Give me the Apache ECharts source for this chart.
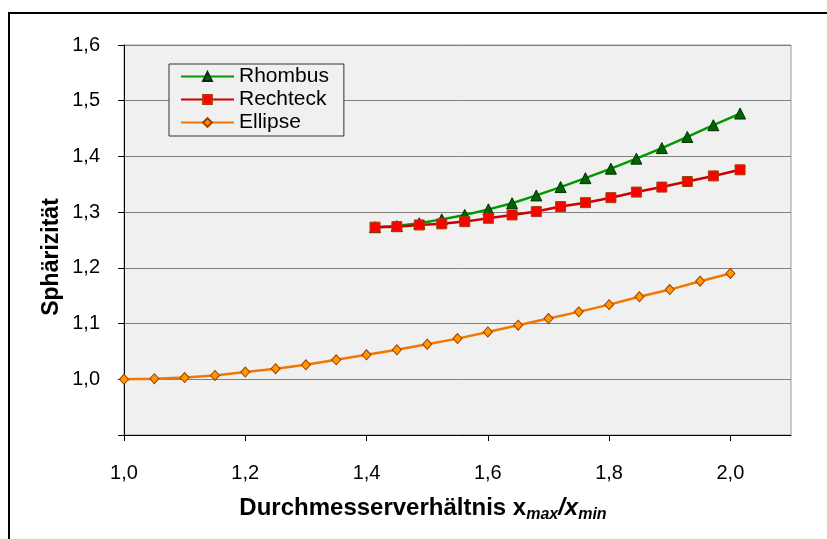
<!DOCTYPE html>
<html>
<head>
<meta charset="utf-8">
<script src="https://cdn.jsdelivr.net/npm/echarts@6/dist/echarts.min.js"></script>
<style>
html,body{margin:0;padding:0;background:#fff;}
#c{width:827px;height:539px;}
</style>
</head>
<body>
<div id="c"></div>
<script>
// ---- data ----
const ellipseX = [1.00, 1.05, 1.10, 1.15, 1.20, 1.25, 1.30, 1.35, 1.40, 1.45, 1.50,
                  1.55, 1.60, 1.65, 1.70, 1.75, 1.80, 1.85, 1.90, 1.95, 2.00];
const ellipseY = [1.000, 1.001, 1.003, 1.007, 1.013, 1.019, 1.026, 1.035, 1.044, 1.053, 1.063,
                  1.073, 1.085, 1.097, 1.109, 1.121, 1.134, 1.148, 1.161, 1.176, 1.190];
const polyX = [1.414, 1.450, 1.487, 1.524, 1.562, 1.601, 1.640, 1.680,
               1.720, 1.761, 1.803, 1.845, 1.887, 1.929, 1.972, 2.016];
const rhombusY = [1.273, 1.275, 1.280, 1.287, 1.295, 1.305, 1.316, 1.330,
                  1.345, 1.361, 1.378, 1.396, 1.415, 1.435, 1.456, 1.477];
const rechteckY = [1.273, 1.274, 1.277, 1.279, 1.283, 1.289, 1.295, 1.301,
                   1.310, 1.317, 1.326, 1.336, 1.345, 1.355, 1.365, 1.376];
const xTickValues = [1.0, 1.2, 1.4, 1.6, 1.8, 2.0];
const seriesNames = ['Rhombus', 'Rechteck', 'Ellipse'];
const yTitle = 'Sphärizität';

function zip(xs, ys) { return xs.map((x, i) => [x, ys[i]]); }
function fmt(v) { return v.toFixed(1).replace('.', ','); }

const FONT = 'Liberation Sans, Arial, sans-serif';
const chart = echarts.init(document.getElementById('c'), null, {renderer: 'canvas'});

chart.setOption({
  animation: false,
  backgroundColor: '#ffffff',
  textStyle: {fontFamily: FONT, color: '#000'},
  grid: {
    left: 124, top: 45, right: 36, bottom: 104,
    show: true, backgroundColor: '#f0f0f0', borderColor: '#999999', borderWidth: 1
  },
  xAxis: {
    type: 'value', min: 1.0, max: 2.1,
    axisLine: {show: true, onZero: false, lineStyle: {color: '#000', width: 1}},
    axisTick: {show: true, length: 6, lineStyle: {color: '#000'}, customValues: xTickValues},
    axisLabel: {fontSize: 20, color: '#000', fontFamily: FONT, margin: 28,
                customValues: xTickValues, formatter: fmt},
    splitLine: {show: false}
  },
  yAxis: {
    type: 'value', min: 0.9, max: 1.6, interval: 0.1,
    axisLine: {show: true, onZero: false, lineStyle: {color: '#000', width: 1}},
    axisTick: {show: true, length: 6, lineStyle: {color: '#000'}},
    axisLabel: {fontSize: 20, color: '#000', fontFamily: FONT, margin: 24,
                formatter: v => (v < 0.95 ? '' : fmt(v))},
    splitLine: {show: true, lineStyle: {color: '#808080', width: 1}}
  },
  legend: {
    orient: 'vertical', left: 169, top: 64,
    padding: [1, 15, 2, 11],
    itemWidth: 53, itemHeight: 11, itemGap: 0,
    backgroundColor: '#f0f0f0', borderColor: '#333', borderWidth: 1,
    textStyle: {fontSize: 21, lineHeight: 23, color: '#000', fontFamily: FONT},
    data: seriesNames
  },
  graphic: [
    {
      type: 'rect', silent: true, z: 100,
      shape: {x: 9, y: 13, width: 900, height: 600},
      style: {fill: 'none', stroke: '#000', lineWidth: 2}
    },
    {
      type: 'text', x: 52, y: 257, rotation: Math.PI / 2,
      style: {text: yTitle, font: 'bold 23px ' + FONT, fill: '#000',
              align: 'center', verticalAlign: 'middle'}
    },
    {
      type: 'text', x: 423, y: 508,
      style: {
        text: '{b|Durchmesserverhältnis x}{s|max}{i|/x}{s|min}',
        align: 'center', verticalAlign: 'middle',
        rich: {
          b: {font: 'bold 24px ' + FONT, fill: '#000', lineHeight: 30, verticalAlign: 'middle'},
          i: {font: 'italic bold 24px ' + FONT, fill: '#000', lineHeight: 30, verticalAlign: 'middle'},
          s: {font: 'italic bold 16px ' + FONT, fill: '#000', lineHeight: 30, verticalAlign: 'bottom'}
        }
      }
    }
  ],
  series: [
    {
      name: seriesNames[0], type: 'line', data: zip(polyX, rhombusY),
      symbol: 'triangle', symbolSize: 11,
      lineStyle: {color: '#009a00', width: 2.5},
      itemStyle: {color: '#006400', borderColor: '#003300', borderWidth: 1}
    },
    {
      name: seriesNames[1], type: 'line', data: zip(polyX, rechteckY),
      symbol: 'rect', symbolSize: 10,
      lineStyle: {color: '#cc0000', width: 2.5},
      itemStyle: {color: '#ff0000', borderColor: '#a0400a', borderWidth: 1}
    },
    {
      name: seriesNames[2], type: 'line', data: zip(ellipseX, ellipseY),
      symbol: 'diamond', symbolSize: [9, 10],
      lineStyle: {color: '#f07800', width: 2.5},
      itemStyle: {color: '#ff9900', borderColor: '#a03c00', borderWidth: 1}
    }
  ]
});
</script>
</body>
</html>
